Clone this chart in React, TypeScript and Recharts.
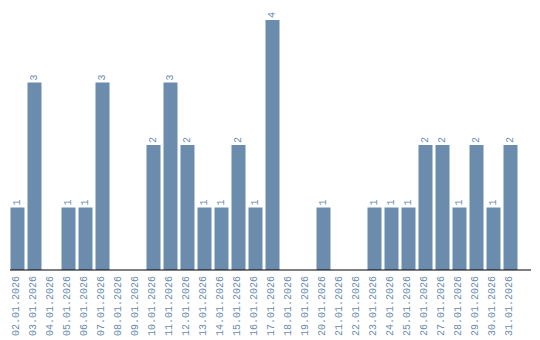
import { BarChart, Bar, XAxis, YAxis, LabelList } from "recharts";

const dates = [
  "02.01.2026", "03.01.2026", "04.01.2026", "05.01.2026", "06.01.2026",
  "07.01.2026", "08.01.2026", "09.01.2026", "10.01.2026", "11.01.2026",
  "12.01.2026", "13.01.2026", "14.01.2026", "15.01.2026", "16.01.2026",
  "17.01.2026", "18.01.2026", "19.01.2026", "20.01.2026", "21.01.2026",
  "22.01.2026", "23.01.2026", "24.01.2026", "25.01.2026", "26.01.2026",
  "27.01.2026", "28.01.2026", "29.01.2026", "30.01.2026", "31.01.2026",
];

const counts = [
  1, 3, 0, 1, 1, 3, 0, 0, 2, 3,
  2, 1, 1, 2, 1, 4, 0, 0, 1, 0,
  0, 1, 1, 1, 2, 2, 1, 2, 1, 2,
];

const BAR_COLOR = "#6b8cad";
const TEXT_COLOR = "#6b8cad";
const FONT = "'Liberation Mono', monospace";

const data = dates.map((d, i) => ({ date: d, count: counts[i] }));

function ValueLabel(props: any) {
  const { x, y, width, value } = props;
  if (!value) return null;
  const cx = x + width / 2;
  const cy = y - 2;
  return (
    <text
      x={cx}
      y={cy}
      transform={`rotate(-90 ${cx} ${cy})`}
      textAnchor="start"
      dominantBaseline="central"
      fill={TEXT_COLOR}
      fontSize={10}
      fontFamily={FONT}
    >
      {value}
    </text>
  );
}

function DateTick(props: any) {
  const { x, payload } = props;
  const tx = x - 1;
  const ty = 268;
  return (
    <text
      x={tx}
      y={ty}
      transform={`rotate(-90 ${tx} ${ty})`}
      textAnchor="end"
      dominantBaseline="central"
      fill={TEXT_COLOR}
      fontSize={10}
      fontFamily={FONT}
    >
      {payload.value}
    </text>
  );
}

export default function App() {
  return (
    <BarChart
      width={524}
      height={332}
      data={data}
      margin={{ top: 2, right: 1, left: 2, bottom: 0 }}
      barSize={14}
    >
      <XAxis
        dataKey="date"
        interval={0}
        tickLine={false}
        axisLine={{ stroke: "#000" }}
        tick={<DateTick />}
        height={70}
        padding={{ left: -1.5, right: 12.5 }}
      />
      <YAxis
        width={0}
        tick={false}
        tickLine={false}
        axisLine={{ stroke: "#000" }}
        domain={[0, 4]}
        padding={{ top: 10 }}
      />
      <Bar dataKey="count" fill={BAR_COLOR} isAnimationActive={false}>
        <LabelList dataKey="count" content={<ValueLabel />} />
      </Bar>
    </BarChart>
  );
}
